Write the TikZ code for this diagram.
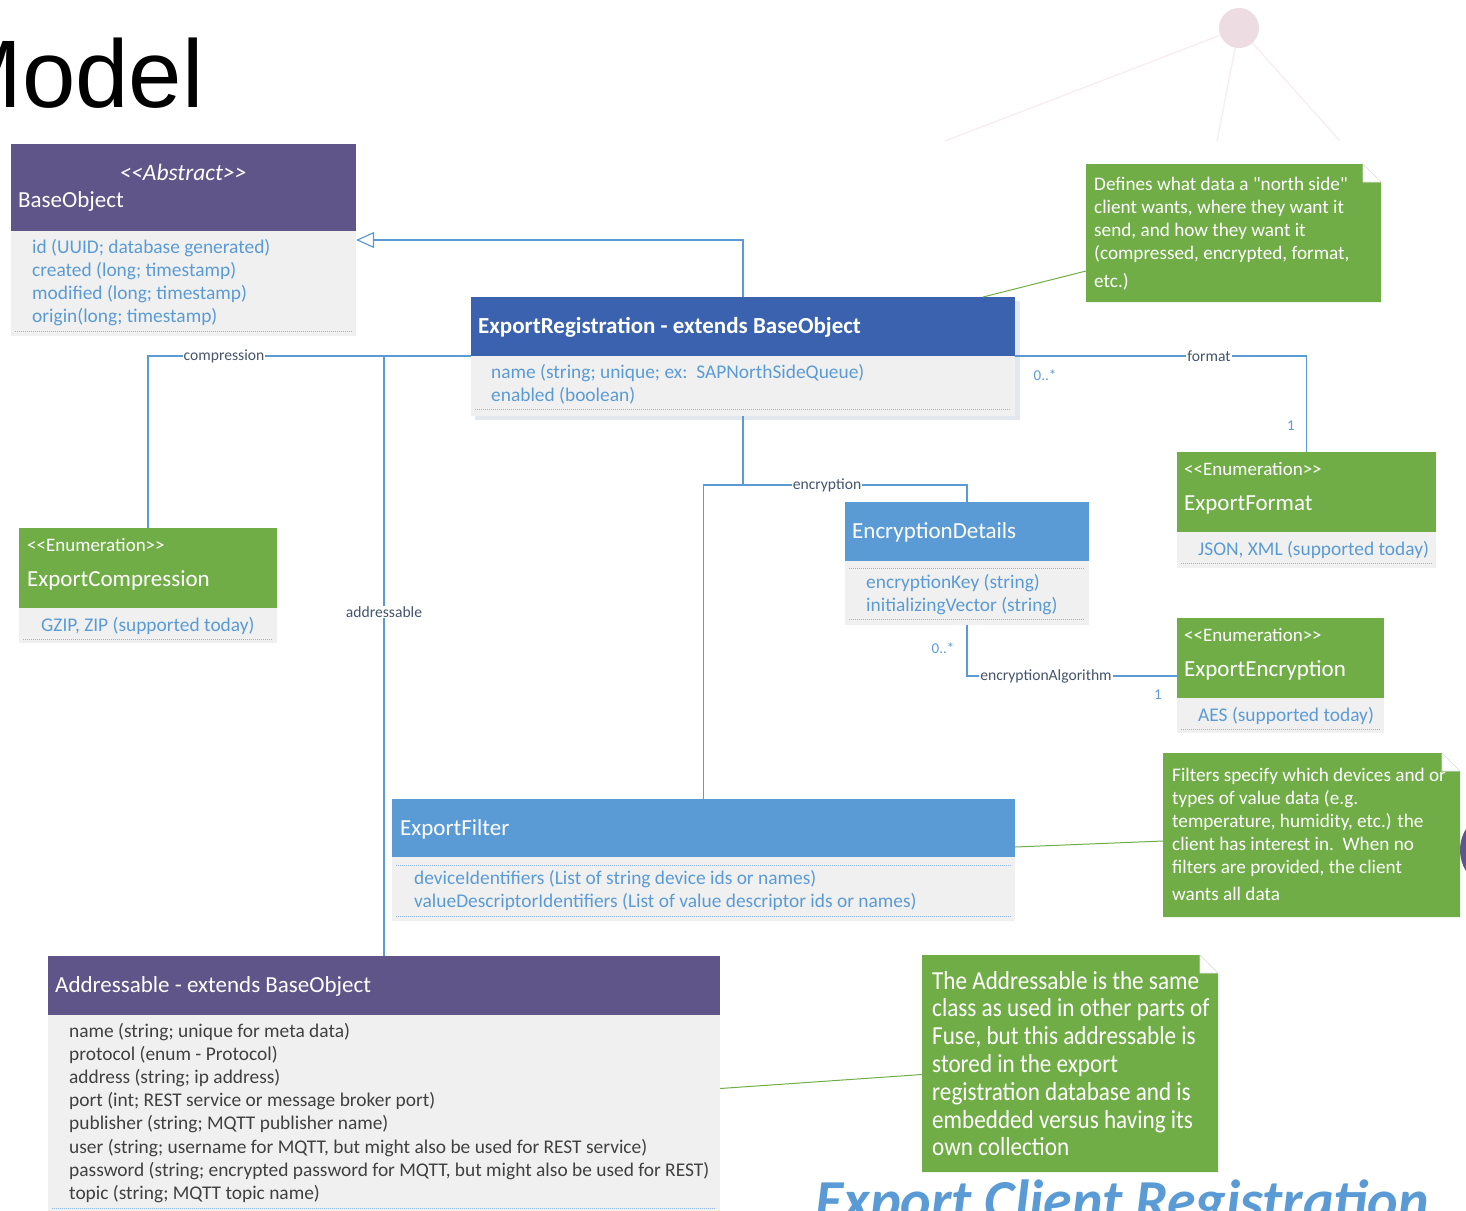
\documentclass[tikz,border=0pt]{standalone}
\usepackage{fontspec}
\setmainfont{Carlito}[Ligatures=TeXOff]
\newfontfamily\titlefont{Liberation Sans}
\newfontfamily\condfont{Carlito}[FakeStretch=0.89,Ligatures=TeXOff]
\usetikzlibrary{arrows.meta}

\definecolor{hdrPurple}{HTML}{5F5588}
\definecolor{hdrNavy}{HTML}{3A62AE}
\definecolor{hdrBlue}{HTML}{5B9BD5}
\definecolor{enumGreen}{HTML}{70AD47}
\definecolor{bodyGray}{HTML}{F0F0F0}
\definecolor{attrBlue}{HTML}{5B9BD5}
\definecolor{lineBlue}{HTML}{5B9BD5}
\definecolor{lblSlate}{HTML}{44546A}
\definecolor{dotBlue}{HTML}{8EB4E3}
\definecolor{shadowGray}{HTML}{E3E7EE}
\definecolor{textDark}{HTML}{404040}
\definecolor{decoPink}{HTML}{EEDCE3}
\definecolor{decoLine}{HTML}{F6EDF0}

\tikzset{
  box/.style={rectangle, inner sep=0pt, outer sep=0pt, anchor=north west},
  head/.style={box, fill=#1},
  body/.style={box, fill=bodyGray},
  hdrtitle/.style={anchor=base west, inner sep=0pt, text=white, font=\fontsize{23}{27}\selectfont},
  stereo/.style={anchor=base west, inner sep=0pt, text=white, font=\fontsize{19}{23}\selectfont},
  attr/.style={anchor=base west, inner sep=0pt, text=attrBlue, font=\fontsize{19.4}{23}\selectfont},
  sep/.style={draw=dotBlue, line width=1pt, dash pattern=on 1pt off 1pt},
  assoc/.style={draw=lineBlue, line width=1.2pt},
  rolelbl/.style={fill=white, inner sep=1pt, text=lblSlate, font=\fontsize{15.6}{18}\selectfont},
  mult/.style={inner sep=0pt, text=attrBlue, font=\fontsize{15}{18}\selectfont},
  notetext/.style={anchor=base west, inner sep=0pt, text=white, font=\fontsize{19.2}{23}\selectfont},
  noteline/.style={draw=enumGreen, line width=1pt},
}

% green note with a folded top-right corner
\newcommand\notefold[1]{%
  \fill[enumGreen] (#1.south west) -- (#1.north west) -- ([xshift=-18pt]#1.north east)
    -- ([yshift=-18pt]#1.north east) -- (#1.south east) -- cycle;
  \filldraw[fill=white, draw=black!12, line width=0.6pt] ([xshift=-18pt]#1.north east)
    -- ([xshift=-18pt,yshift=-18pt]#1.north east) -- ([yshift=-18pt]#1.north east) -- cycle;}

\begin{document}
\begin{tikzpicture}[x=1pt,y=-1pt]
\useasboundingbox (0,0) rectangle (1466,1210);
\clip (0,0) rectangle (1466,1210);

% slide decoration
\draw[decoLine, line width=1.3pt] (1239,28) -- (945,141);
\draw[decoLine, line width=1.3pt] (1239,28) -- (1217,141);
\draw[decoLine, line width=1.3pt] (1239,28) -- (1340,141);
\fill[decoPink] (1239,28) circle[radius=20pt];
\fill[hdrPurple] (1500,850) circle[radius=40pt];

% slide heading
\node[anchor=base west, inner sep=0pt, font=\titlefont\fontsize{96}{110}\selectfont] (pagetitle) at (-58,107) {Model};

% ---------- BaseObject ----------
\node[head=hdrPurple, minimum width=345pt, minimum height=87pt] (basehead) at (11,144) {};
\node[body, minimum width=345pt, minimum height=105pt] (basebody) at (11,231) {};
\node[stereo, anchor=base, font=\fontsize{23.5}{27}\selectfont\itshape] (baseabs) at (183,180) {<<Abstract>>};
\node[hdrtitle] (basename) at (18,207) {BaseObject};
\foreach \t [count=\i from 0] in {{id (UUID; database generated)},{created (long; timestamp)},{modified (long; timestamp)},{origin(long; timestamp)}}
  \node[attr] (basea\i) at (32,253+23*\i) {\t};
\draw[sep] (15,331) -- (352,331);

% ---------- ExportRegistration ----------
\fill[shadowGray] (475,301) rectangle (1020,420);
\node[head=hdrNavy, minimum width=544pt, minimum height=59pt] (reghead) at (471,297) {};
\node[body, minimum width=544pt, minimum height=60pt] (regbody) at (471,356) {};
\node[hdrtitle, font=\fontsize{23}{27}\selectfont\bfseries] (regname) at (478,333) {ExportRegistration - extends BaseObject};
\node[attr] (rega0) at (491,378) {name (string; unique; ex:\ \ SAPNorthSideQueue)};
\node[attr] (rega1) at (491,401) {enabled (boolean)};
\draw[sep] (475,409) -- (1011,409);

% ---------- ExportCompression ----------
\node[head=enumGreen, minimum width=258pt, minimum height=80pt] (comphead) at (19,528) {};
\node[body, minimum width=258pt, minimum height=35pt] (compbody) at (19,608) {};
\node[stereo] (compst) at (27,551) {<<Enumeration>>};
\node[hdrtitle] (compname) at (27,586) {ExportCompression};
\node[attr] (compa0) at (41,631) {GZIP, ZIP (supported today)};
\draw[sep] (23,639) -- (273,639);

% ---------- ExportFormat ----------
\node[head=enumGreen, minimum width=259pt, minimum height=80pt] (fmthead) at (1177,452) {};
\node[body, minimum width=259pt, minimum height=36pt] (fmtbody) at (1177,532) {};
\node[stereo] (fmtst) at (1184,475) {<<Enumeration>>};
\node[hdrtitle] (fmtname) at (1184,510) {ExportFormat};
\node[attr] (fmta0) at (1198,555) {JSON, XML (supported today)};
\draw[sep] (1181,563) -- (1432,563);

% ---------- ExportEncryption ----------
\node[head=enumGreen, minimum width=207pt, minimum height=80pt] (encrhead) at (1177,618) {};
\node[body, minimum width=207pt, minimum height=35pt] (encrbody) at (1177,698) {};
\node[stereo] (encrst) at (1184,641) {<<Enumeration>>};
\node[hdrtitle] (encrname) at (1184,676) {ExportEncryption};
\node[attr] (encra0) at (1198,721) {AES (supported today)};
\draw[sep] (1181,729) -- (1380,729);

% ---------- EncryptionDetails ----------
\node[head=hdrBlue, minimum width=244pt, minimum height=59pt] (enchead) at (845,502) {};
\node[body, minimum width=244pt, minimum height=64pt] (encbody) at (845,561) {};
\node[hdrtitle] (encname) at (852,538) {EncryptionDetails};
\draw[sep] (849,568) -- (1085,568);
\node[attr] (enca0) at (866,588) {encryptionKey (string)};
\node[attr] (enca1) at (866,611) {initializingVector (string)};
\draw[sep] (849,619) -- (1085,619);

% ---------- ExportFilter ----------
\node[head=hdrBlue, minimum width=623pt, minimum height=58pt] (filthead) at (392,799) {};
\node[body, minimum width=623pt, minimum height=64pt] (filtbody) at (392,857) {};
\node[hdrtitle] (filtname) at (400,835) {ExportFilter};
\draw[sep] (396,865) -- (1011,865);
\node[attr] (filta0) at (414,884) {deviceIdentifiers (List of string device ids or names)};
\node[attr] (filta1) at (414,907) {valueDescriptorIdentifiers (List of value descriptor ids or names)};
\draw[sep] (396,916) -- (1011,916);

% ---------- Addressable ----------
\node[head=hdrPurple, minimum width=672pt, minimum height=59pt] (addrhead) at (48,956) {};
\node[body, minimum width=672pt, minimum height=197pt] (addrbody) at (48,1015) {};
\node[hdrtitle] (addrname) at (55,992) {Addressable - extends BaseObject};
\foreach \t [count=\i from 0] in {{name (string; unique for meta data)},{protocol (enum - Protocol)},{address (string; ip address)},{port (int; REST service or message broker port)},{publisher (string; MQTT publisher name)},{user (string; username for MQTT, but might also be used for REST service)},{password (string; encrypted password for MQTT, but might also be used for REST)},{topic (string; MQTT topic name)}}
  \node[attr, text=textDark] (addra\i) at (69,1037+23.2*\i) {\t};
\draw[sep] (52,1208) -- (716,1208);

% ---------- associations ----------
\draw[assoc, -{Triangle[open, length=18pt, width=16pt, line width=1.2pt]}]
  (reghead.north) |- ([yshift=-9pt]basebody.north east);
\draw[assoc] (reghead.south west) -| (comphead.north);
\draw[assoc] (addrhead.north |- reghead.south west) -- (addrhead.north);
\draw[assoc] (reghead.south east) -| (fmthead.north);
\draw[assoc] (regbody.south) -- (regbody.south |- 0,485);
\draw[assoc] (filthead.north) -- (filthead.north |- 0,485) -| (enchead.north);
\draw[assoc] (encbody.south) |- ([yshift=-18pt]encrhead.west);

\node[rolelbl] (lblcomp) at (224,356) {compression};
\node[rolelbl] (lbladdr) at (384,612) {addressable};
\node[rolelbl] (lblfmt) at (1209,356) {format};
\node[rolelbl] (lblenc) at (827,485) {encryption};
\node[rolelbl] (lblalg) at (1046,676) {encryptionAlgorithm};
\node[mult] (mfmt0) at (1045,375) {0..*};
\node[mult] (mfmt1) at (1291,426) {1};
\node[mult] (malg0) at (943,648) {0..*};
\node[mult] (malg1) at (1158,695) {1};

% ---------- notes ----------
\node[box, minimum width=295pt, minimum height=138pt] (n1) at (1086,164) {};
\notefold{n1}
\foreach \t [count=\i from 0] in {{Defines what data a "north side"},{client wants, where they want it},{send, and how they want it},{(compressed, encrypted, format,}}
  \node[notetext] (n1l\i) at (1094,190+23*\i) {\t};
\node[notetext] (n1l4) at (1094,287) {etc.)};

\node[box, minimum width=297pt, minimum height=164pt] (n2) at (1163,753) {};
\notefold{n2}
\foreach \t [count=\i from 0] in {{Filters specify which devices and or},{types of value data (e.g.},{temperature, humidity, etc.) the},{client has interest in.\ \ When no},{filters are provided, the client}}
  \node[notetext] (n2l\i) at (1172,781+23*\i) {\t};
\node[notetext] (n2l5) at (1172,900) {wants all data};

\node[box, minimum width=296pt, minimum height=217pt] (n3) at (922,955) {};
\notefold{n3}
\foreach \t [count=\i from 0] in {{The Addressable is the same},{class as used in other parts of},{Fuse, but this addressable is},{stored in the export},{registration database and is},{embedded versus having its},{own collection}}
  \node[notetext, font=\condfont\fontsize{26}{28}\selectfont] (n3l\i) at (932,989+27.8*\i) {\t};

\draw[noteline] ([xshift=240pt]reghead.north) -- ([yshift=-38pt]n1.west);
\draw[noteline] ([yshift=-19pt]filthead.east) -- ([yshift=-6pt]n2.west);
\draw[noteline] ([yshift=25pt]addrbody.east) -- ([yshift=-11pt]n3.west);

% slide footer title
\node[anchor=base west, inner sep=0pt, text=hdrBlue, font=\fontsize{58}{70}\selectfont\bfseries\itshape] (slidetitle) at (815,1220) {Export Client Registration};
\end{tikzpicture}
\end{document}
